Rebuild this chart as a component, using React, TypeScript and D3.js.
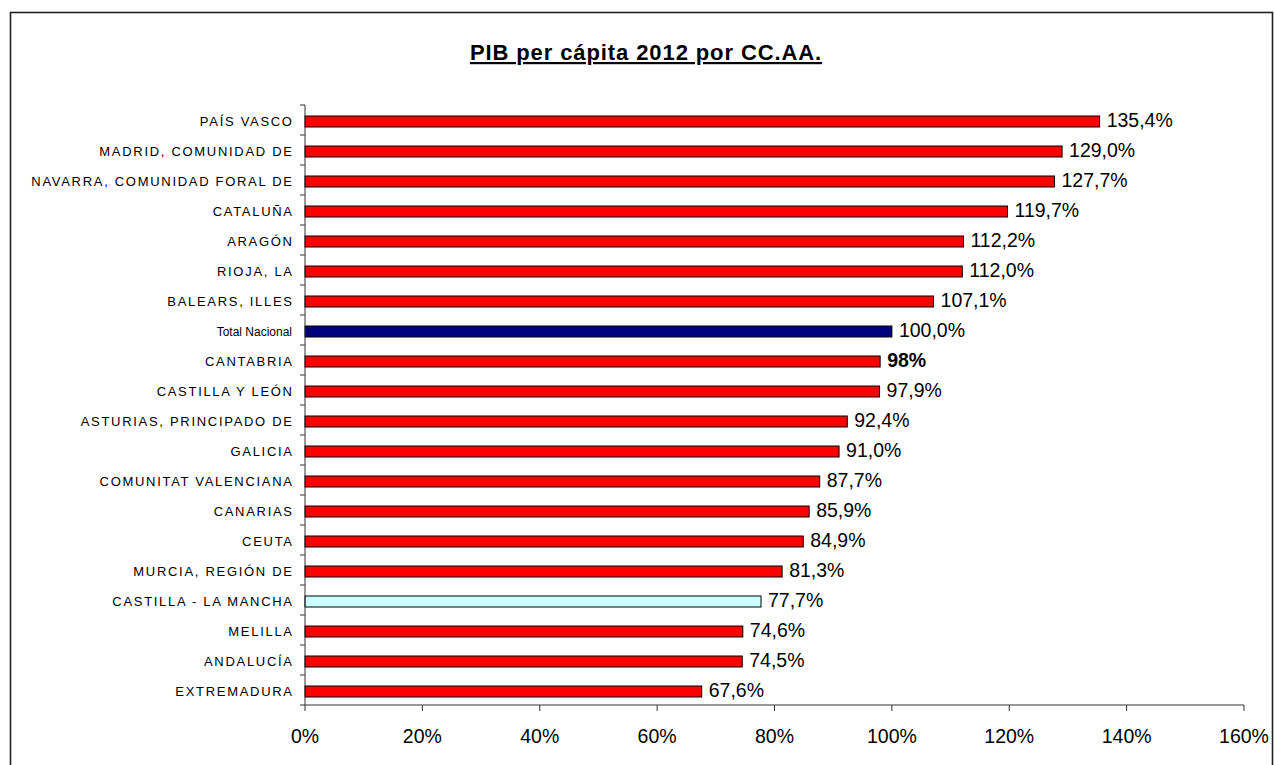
import React from "react";
import * as d3 from "d3";

const categories = [
  "PAÍS VASCO",
  "MADRID, COMUNIDAD DE",
  "NAVARRA, COMUNIDAD FORAL DE",
  "CATALUÑA",
  "ARAGÓN",
  "RIOJA, LA",
  "BALEARS, ILLES",
  "Total Nacional",
  "CANTABRIA",
  "CASTILLA Y LEÓN",
  "ASTURIAS, PRINCIPADO DE",
  "GALICIA",
  "COMUNITAT VALENCIANA",
  "CANARIAS",
  "CEUTA",
  "MURCIA, REGIÓN DE",
  "CASTILLA - LA MANCHA",
  "MELILLA",
  "ANDALUCÍA",
  "EXTREMADURA",
];

const values = [
  135.4, 129.0, 127.7, 119.7, 112.2, 112.0, 107.1, 100.0, 98.0, 97.9, 92.4,
  91.0, 87.7, 85.9, 84.9, 81.3, 77.7, 74.6, 74.5, 67.6,
];

const valueLabels = [
  "135,4%", "129,0%", "127,7%", "119,7%", "112,2%", "112,0%", "107,1%",
  "100,0%", "98%", "97,9%", "92,4%", "91,0%", "87,7%", "85,9%", "84,9%",
  "81,3%", "77,7%", "74,6%", "74,5%", "67,6%",
];

const boldLabels = ["CANTABRIA"];
const navyBars = ["Total Nacional"];
const cyanBars = ["CASTILLA - LA MANCHA"];

const xTicks = [0, 20, 40, 60, 80, 100, 120, 140, 160];
const title = "PIB per cápita 2012 por CC.AA.";

const W = 1274;
const H = 765;
const FONT = "Arial, 'Liberation Sans', sans-serif";

export default function App() {
  const x = d3.scaleLinear().domain([0, 160]).range([305, 1244]);
  const y = d3.scaleBand<string>().domain(categories).range([105, 705]).padding(0);
  const axisColor = "#333";
  const boundaries = categories.map((c) => y(c) as number).concat([705]);

  const barColor = (c: string) =>
    navyBars.includes(c) ? "#000080" : cyanBars.includes(c) ? "#CCFFFF" : "#FF0000";

  return (
    <svg
      width={W}
      height={H}
      style={{ position: "absolute", left: 0, top: 0, background: "#fff" }}
      fontFamily={FONT}
    >
      <rect x={0} y={0} width={W} height={H} fill="#fff" />
      <rect x={10.5} y={12.5} width={1262} height={800} fill="none" stroke="#222" strokeWidth={1.6} />

      <text
        x={646}
        y={60}
        textAnchor="middle"
        fontSize={22}
        fontWeight="bold"
        letterSpacing={0.9}
        textDecoration="underline"
        fill="#000"
      >
        {title}
      </text>

      {categories.map((c, i) => {
        const top = y(c) as number;
        const isCaps = c === c.toUpperCase();
        const ls = isCaps ? 1.7 : 0;
        return (
          <g key={c}>
            <rect
              x={x(0)}
              y={top + 11}
              width={x(values[i]) - x(0)}
              height={11}
              fill={barColor(c)}
              stroke="#000"
              strokeWidth={1}
            />
            <text
              x={292 + ls}
              y={top + 20.5}
              textAnchor="end"
              fontSize={isCaps ? 13 : 12}
              letterSpacing={ls}
              fill="#000"
            >
              {c}
            </text>
            <text
              x={x(values[i]) + 7}
              y={top + 22}
              fontSize={19.5}
              fontWeight={boldLabels.includes(c) ? "bold" : "normal"}
              fill="#000"
            >
              {valueLabels[i]}
            </text>
          </g>
        );
      })}

      {/* Y axis */}
      <line x1={305} x2={305} y1={105} y2={705} stroke={axisColor} strokeWidth={1} />
      {boundaries.map((b, i) => (
        <line key={i} x1={300} x2={305} y1={b} y2={b} stroke={axisColor} strokeWidth={1} />
      ))}

      {/* X axis */}
      <line x1={x(0)} x2={x(160)} y1={705} y2={705} stroke={axisColor} strokeWidth={1} />
      {xTicks.map((t) => (
        <g key={t}>
          <line x1={x(t)} x2={x(t)} y1={705} y2={711} stroke={axisColor} strokeWidth={1} />
          <text x={x(t)} y={743} textAnchor="middle" fontSize={19.5} fill="#000">
            {t + "%"}
          </text>
        </g>
      ))}
    </svg>
  );
}
